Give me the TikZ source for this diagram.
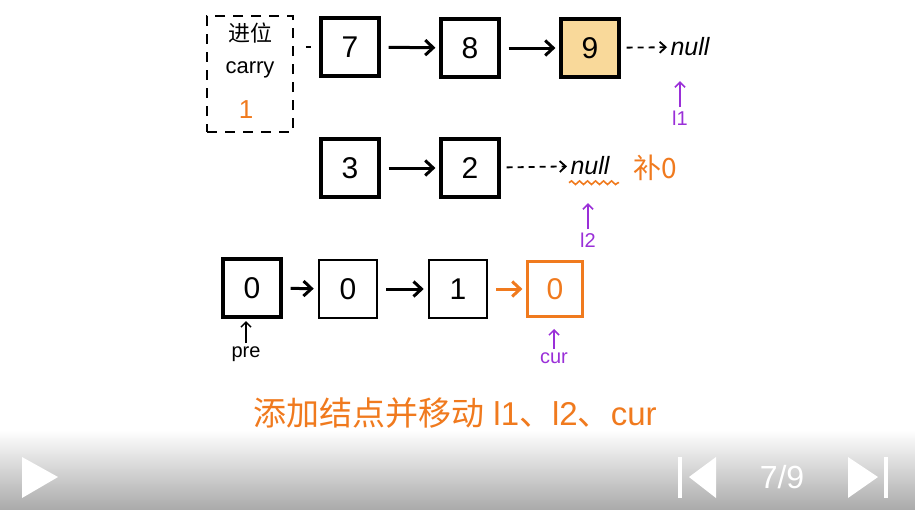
\documentclass[tikz,border=0pt]{standalone}
\usepackage{fontspec}
\setmainfont{Liberation Sans}
\newfontfamily\cjk{Noto Sans CJK SC}
\usepackage{tikz}
\usetikzlibrary{arrows.meta,positioning,decorations.pathmorphing}

\definecolor{penorange}{HTML}{F07A1E}
\definecolor{penpurple}{HTML}{9A2FD8}
\definecolor{cellfill}{HTML}{F9D99A}

\tikzset{
    cell/.style={draw, line width=3.2pt, minimum size=58pt, inner sep=0pt,
        font=\fontsize{30}{30}\selectfont},
    link/.style={line width=3pt, shorten <=8pt, shorten >=4pt,
        -{Straight Barb[length=8pt,width=15pt,line width=3pt]}},
    nextnull/.style={line width=1.8pt, dashed, dash pattern=on 6pt off 5pt, shorten <=6pt,
        -{Straight Barb[length=6pt,width=11pt]}},
    pointer/.style={line width=1.5pt, -{Straight Barb[length=5pt,width=10pt]}},
    nulltext/.style={font=\fontsize{25}{25}\selectfont\itshape}
}

\begin{document}
\begin{tikzpicture}[x=1pt,y=-1pt]
    \useasboundingbox (0,0) rectangle (915,509);

    % carry box
    \node[draw, dashed, dash pattern=on 10pt off 8pt, line width=1.6pt,
          minimum width=86pt, minimum height=116pt] (carry) at (250,74) {};
    \node[font=\cjk\fontsize{22}{22}\selectfont] (carrycn) at (250,33) {进位};
    \node[font=\fontsize{22}{22}\selectfont] (carryen) at (250,70) {carry};
    \node[font=\fontsize{26}{26}\selectfont, text=penorange] (carryval) at (246,110) {1};

    % l1
    \node[cell] (n7) at (350,47) {7};
    \node[cell] (n8) at (470,48) {8};
    \node[cell, fill=cellfill] (n9) at (590,48) {9};
    \node[nulltext] (null1) at (690,47) {null};
    \draw[line width=1.8pt] (carry.east |- n7) ++(12,0) coordinate (cdash) -- ++(5,0);
    \draw[link] (n7) -- (n8);
    \draw[link] (n8) -- (n9);
    \draw[nextnull] (n9) -- (null1);
    \node[text=penpurple, font=\fontsize{20}{20}\selectfont] (l1) at (680,118) {l1};
    \draw[pointer, penpurple] (l1.north) -- ++(0,-26);

    % l2
    \node[cell] (n3) at (350,168) {3};
    \node[cell] (n2) at (470,168) {2};
    \node[nulltext] (null2) at (590,166) {null};
    \node[text=penorange, font=\cjk\fontsize{28}{28}\selectfont] (pad) at (655,168) {补0};
    \draw[link] (n3) -- (n2);
    \draw[nextnull] (n2) -- (null2);
    \draw[penorange, line width=1.6pt, decorate,
          decoration={snake, amplitude=1.8pt, segment length=8pt}]
          (null2.south west) ++(2,4) -- ++(50,0);
    \node[text=penpurple, font=\fontsize{20}{20}\selectfont] (l2) at (588,240) {l2};
    \draw[pointer, penpurple] (l2.north) -- ++(0,-26);

    % result
    \node[cell] (r0) at (252,288) {0};
    \node[cell, line width=2.6pt] (r1) at (348,289) {0};
    \node[cell, line width=2.6pt] (r2) at (458,289) {1};
    \node[cell, draw=penorange, text=penorange, line width=2.2pt, minimum size=55pt] (r3) at (555,289) {0};
    \draw[link] (r0) -- (r1);
    \draw[link] (r1) -- (r2);
    \draw[link, penorange] (r2) -- (r3);
    \node[font=\fontsize{20}{20}\selectfont] (pre) at (246,354) {pre};
    \draw[pointer] (pre.north) -- ++(0,-22);
    \node[text=penpurple, font=\fontsize{20}{20}\selectfont] (cur) at (554,358) {cur};
    \draw[pointer, penpurple] (cur.north) -- ++(0,-20);

    % caption
    \node[text=penorange, font=\fontsize{33}{33}\selectfont] (caption) at (455,413)
        {{\cjk 添加结点并移动} l1{\cjk 、}l2{\cjk 、}cur};

    % player bar
    \shade[top color=white, bottom color=black!33] (0,430) rectangle (915,509);
    \fill[white] (22,457) -- (58,477) -- (22,498) -- cycle;
    \fill[white] (678,457) rectangle (682,498);
    \fill[white] (716,457) -- (689,477) -- (716,498) -- cycle;
    \node[text=white, font=\fontsize{32}{32}\selectfont] (page) at (782,477) {7/9};
    \fill[white] (848,457) -- (878,477) -- (848,498) -- cycle;
    \fill[white] (884,457) rectangle (888,498);
\end{tikzpicture}
\end{document}
